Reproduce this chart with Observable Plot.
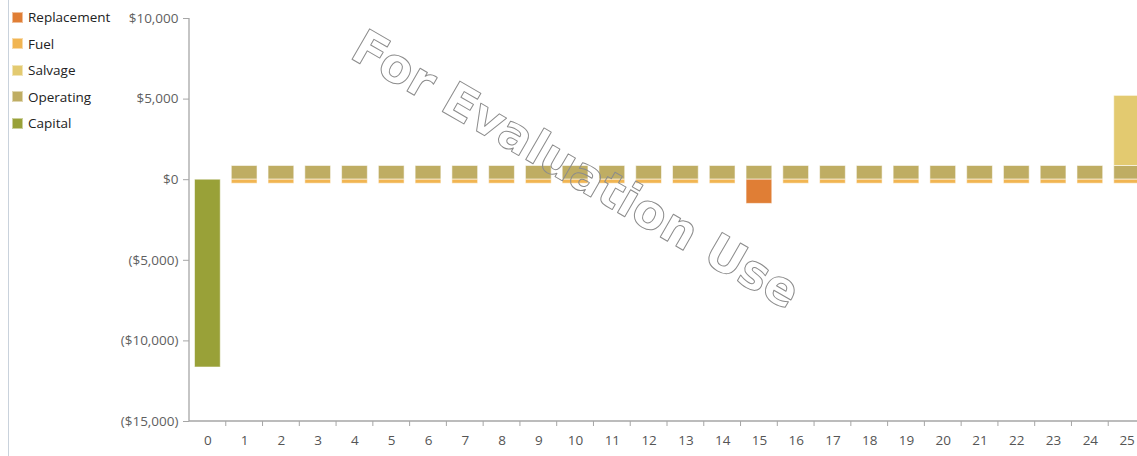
<!DOCTYPE html>
<html>
<head>
<meta charset="utf-8">
<script src="https://cdn.jsdelivr.net/npm/d3@7"></script>
<script src="https://cdn.jsdelivr.net/npm/@observablehq/plot@0.6"></script>
<style>
  html, body { margin: 0; padding: 0; background: #fff; overflow: hidden; }
  #wrap { position: relative; width: 1137px; height: 456px; font-family: "Open Sans", sans-serif; }
  #vline { position: absolute; left: 8px; top: 0; width: 1px; height: 456px; background: #c9d2dc; }
  #legend { position: absolute; left: 12px; top: 4px; z-index: 2; }
  .item { height: 26.5px; display: flex; align-items: center; font-size: 13.5px; color: #222; white-space: nowrap; }
  .sw { width: 11px; height: 11px; margin-right: 5px; box-sizing: border-box; border: 1px solid rgba(255,255,255,0.5); }
  #chart { position: absolute; left: 0; top: 0; }
</style>
</head>
<body>
<div id="wrap">
  <div id="vline"></div>
  <div id="legend"></div>
  <div id="chart"></div>
</div>
<script>
const years = [0,1,2,3,4,5,6,7,8,9,10,11,12,13,14,15,16,17,18,19,20,21,22,23,24,25];
const seriesNames = ["Replacement", "Fuel", "Salvage", "Operating", "Capital"];
const seriesColors = ["#e07e35", "#f1b552", "#e3ca70", "#bfad63", "#99a138"];
const capital     = [-11650,0,0,0,0,0,0,0,0,0,0,0,0,0,0,0,0,0,0,0,0,0,0,0,0,0];
const operating   = [0,850,850,850,850,850,850,850,850,850,850,850,850,850,850,850,850,850,850,850,850,850,850,850,850,850];
const fuel        = [0,-250,-250,-250,-250,-250,-250,-250,-250,-250,-250,-250,-250,-250,-250,0,-250,-250,-250,-250,-250,-250,-250,-250,-250,-250];
const replacement = [0,0,0,0,0,0,0,0,0,0,0,0,0,0,0,-1500,0,0,0,0,0,0,0,0,0,0];
const salvage     = [0,0,0,0,0,0,0,0,0,0,0,0,0,0,0,0,0,0,0,0,0,0,0,0,0,4350];
const yTicks = [-15000, -10000, -5000, 0, 5000, 10000];
const watermark = "For Evaluation Use";

const seriesValues = {Capital: capital, Operating: operating, Fuel: fuel, Replacement: replacement, Salvage: salvage};
const data = [];
years.forEach((yr, i) => {
  for (const name of ["Capital", "Operating", "Fuel", "Replacement", "Salvage"]) {
    const v = seriesValues[name][i];
    if (v !== 0) data.push({year: yr, type: name, value: v});
  }
});

const money = d3.format(",");
const fmt = d => d < 0 ? `($${money(-d)})` : `$${money(d)}`;

function axisLines(index, scales, values, dims) {
  const x = scales.x, y = scales.y;
  const step = x(years[1]) - x(years[0]);
  const bw = typeof x.bandwidth === "function" ? x.bandwidth() : step * 0.7;
  const yb = y(-15000);
  const g = d3.create("svg:g").attr("stroke", "#a6a6a6").attr("fill", "none");
  for (const yr of years.slice(1)) {
    const xb = x(yr) - (step - bw) / 2;
    g.append("line").attr("x1", xb).attr("x2", xb).attr("y1", yb).attr("y2", yb + 5);
  }
  g.append("line").attr("x1", dims.marginLeft).attr("x2", dims.width + 20)
    .attr("y1", yb).attr("y2", yb).attr("stroke-width", 1.3);
  g.append("line").attr("x1", dims.marginLeft).attr("x2", dims.marginLeft)
    .attr("y1", y(10000)).attr("y2", yb).attr("stroke-width", 1.3);
  return g.node();
}

const chart = Plot.plot({
  width: 1137,
  height: 456,
  marginLeft: 189,
  marginRight: 0,
  marginTop: 18,
  marginBottom: 35,
  style: {fontFamily: "'Open Sans', sans-serif", fontSize: "13.5px", background: "transparent", overflow: "hidden"},
  x: {type: "band", domain: years, range: [189, 1145], round: false, paddingInner: 0.3, paddingOuter: 0.15, label: null},
  y: {domain: [-15000, 10000], label: null},
  color: {domain: seriesNames, range: seriesColors},
  marks: [
    Plot.axisY({ticks: yTicks, tickFormat: fmt, tickSize: 6, tickPadding: 5, color: "#5f5f5f", stroke: "#a6a6a6", label: null}),
    Plot.axisX({tickSize: 0, tickPadding: 14, color: "#555", label: null}),
    Plot.barY(data, Plot.stackY({x: "year", y: "value", fill: "type", order: ["Capital", "Operating", "Fuel", "Replacement", "Salvage"], stroke: "white", strokeOpacity: 0.55, strokeWidth: 1})),
    axisLines,
    Plot.text([watermark], {x: () => 10, y: () => 570, text: d => d, rotate: 30, fontSize: 48, fontWeight: "bold", fontFamily: "DejaVu Sans", fill: "none", stroke: "#8c8c8c", strokeWidth: 1, textAnchor: "middle", lineAnchor: "middle"})
  ]
});
document.getElementById("chart").appendChild(chart);

const legend = d3.select("#legend");
seriesNames.forEach((n, i) => {
  const it = legend.append("div").attr("class", "item");
  it.append("div").attr("class", "sw").style("background", seriesColors[i]);
  it.append("span").text(n);
});
</script>
</body>
</html>
